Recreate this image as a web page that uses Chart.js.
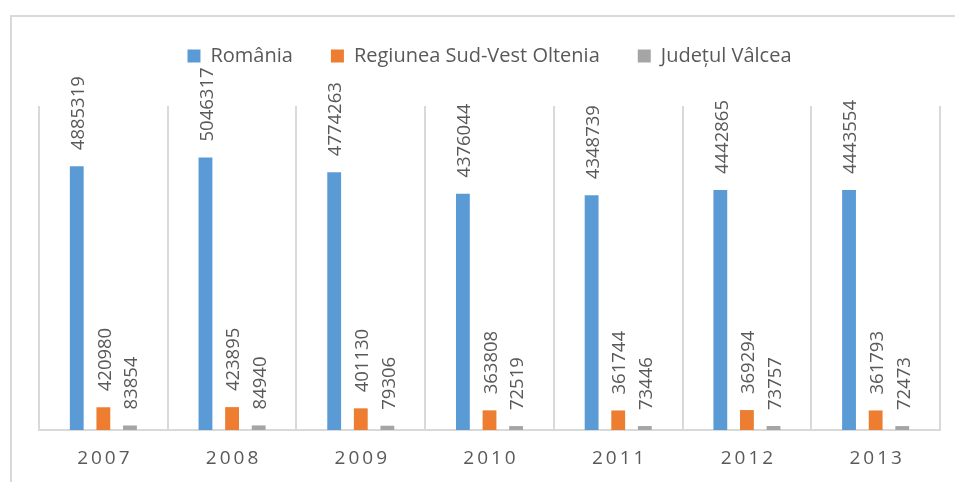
<!DOCTYPE html>
<html>
<head>
<meta charset="utf-8">
<script src="https://cdn.jsdelivr.net/npm/chart.js@4/dist/chart.umd.min.js"></script>
<style>
  html, body { margin: 0; padding: 0; background: #ffffff; overflow: hidden; width: 955px; height: 482px; }
  #frame { position: absolute; left: 10px; top: 15px; width: 1000px; height: 1000px; border: 2px solid #d9d9d9; box-sizing: border-box; }
  #c { position: absolute; left: 0; top: 0; }
</style>
</head>
<body>
<div id="frame"></div>
<canvas id="c" width="955" height="482"></canvas>
<script>
const categories = ['2007', '2008', '2009', '2010', '2011', '2012', '2013'];
const seriesNames = ['România', 'Regiunea Sud-Vest Oltenia', 'Județul Vâlcea'];
const romania = [4885319, 5046317, 4774263, 4376044, 4348739, 4442865, 4443554];
const sudVestOltenia = [420980, 423895, 401130, 363808, 361744, 369294, 361793];
const valcea = [83854, 84940, 79306, 72519, 73446, 73757, 72473];
const colors = ['#5B9BD5', '#ED7D31', '#A5A5A5'];
const textColor = '#595959';

const valueLabels = {
  id: 'valueLabels',
  afterDatasetsDraw(chart) {
    const ctx = chart.ctx;
    ctx.save();
    ctx.fillStyle = textColor;
    ctx.font = '18.5px "Open Sans"';
    ctx.textAlign = 'left';
    ctx.textBaseline = 'middle';
    chart.data.datasets.forEach((ds, i) => {
      const meta = chart.getDatasetMeta(i);
      meta.data.forEach((bar, j) => {
        ctx.save();
        ctx.translate(bar.x + 2, bar.y - 16);
        ctx.rotate(-Math.PI / 2);
        ctx.fillText(String(ds.data[j]), 0, 0);
        ctx.restore();
      });
    });
    ctx.restore();
  }
};

const xLabels = {
  id: 'xLabels',
  afterDraw(chart) {
    const ctx = chart.ctx;
    const xs = chart.scales.x;
    ctx.save();
    ctx.fillStyle = textColor;
    ctx.font = '19px "Open Sans"';
    ctx.letterSpacing = '3px';
    ctx.textAlign = 'center';
    ctx.textBaseline = 'middle';
    categories.forEach((c, i) => {
      ctx.fillText(c, xs.getPixelForValue(i) + 1.5, xs.bottom + 29);
    });
    ctx.restore();
  }
};

new Chart(document.getElementById('c'), {
  type: 'bar',
  data: {
    labels: categories,
    datasets: [
      { label: seriesNames[0], data: romania, backgroundColor: colors[0] },
      { label: seriesNames[1], data: sudVestOltenia, backgroundColor: colors[1] },
      { label: seriesNames[2], data: valcea, backgroundColor: colors[2] }
    ]
  },
  options: {
    responsive: false,
    animation: false,
    devicePixelRatio: 1,
    layout: { padding: { left: 39, right: 15, top: 8, bottom: 52 } },
    datasets: { bar: { categoryPercentage: 0.62, barPercentage: 0.52 } },
    scales: {
      x: {
        grid: { display: true, color: '#d9d9d9', lineWidth: 2, drawTicks: false, offset: true },
        border: { display: true, color: '#d9d9d9', width: 2 },
        ticks: { display: false }
      },
      xTop: {
        type: 'category',
        position: 'top',
        labels: categories,
        grid: { display: false, drawTicks: false },
        border: { display: false },
        ticks: { display: false },
        afterFit: (scale) => { scale.height = 30; }
      },
      y: { display: false, min: 0, max: 6000000 }
    },
    plugins: {
      legend: {
        position: 'top',
        labels: {
          boxWidth: 13, boxHeight: 13, padding: 38,
          color: textColor,
          font: { family: '"Open Sans"', size: 20 }
        }
      },
      tooltip: { enabled: false }
    }
  },
  plugins: [valueLabels, xLabels]
});
</script>
</body>
</html>
